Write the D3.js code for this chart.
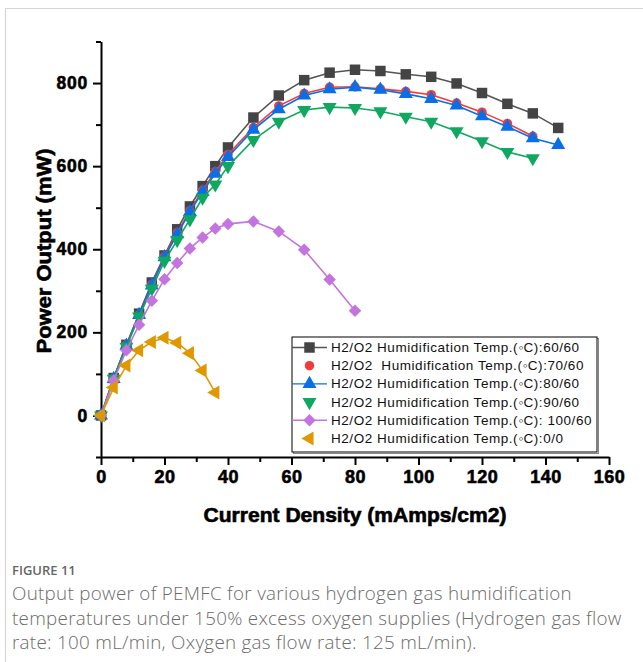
<!DOCTYPE html>
<html>
<head>
<meta charset="utf-8">
<script src="https://cdn.jsdelivr.net/npm/d3@7"></script>
<style>
  body { margin: 0; background: #fff; }
  svg { display: block; }
  .tick text { font-family: "Liberation Sans", Arial, sans-serif; font-weight: bold; }
</style>
</head>
<body>
<div id="chartArea"><svg id="chart"></svg></div>
<script>
// current density (mAmps/cm2) at each measurement
const currentDensity = [0, 4, 8, 12, 16, 20, 24, 28, 32, 36, 40, 48, 56, 64, 72, 80, 88, 96, 104, 112, 120, 128, 136, 144];

// power output (mW), one array per humidification temperature
const temp60_60 = [0, 90, 170, 245, 320, 385, 448, 503, 552, 600, 645, 717, 770, 807, 825, 832, 829, 821, 815, 799, 776, 750, 727, 692];
const temp70_60 = [0, 90, 170, 243, 315, 383, 440, 493, 542, 587, 628, 693, 745, 775, 790, 791, 786, 780, 772, 752, 730, 703, 672];
const temp80_60 = [0, 88, 168, 242, 313, 381, 436, 490, 538, 582, 622, 688, 737, 770, 785, 790, 784, 774, 762, 746, 720, 695, 667, 651];
const temp90_60 = [0, 88, 165, 238, 305, 372, 422, 472, 524, 556, 600, 663, 707, 735, 742, 740, 732, 719, 707, 684, 660, 634, 619];
const temp100_60 = [0, 84, 157, 218, 276, 328, 367, 402, 428, 450, 461, 467, 443, 399, 327, 252];
const temp0_0 = [0, 67, 120, 157, 177, 187, 175, 150, 108, 55];

const seriesNames = [
  "H2/O2 Humidification Temp.(\u25E6C):60/60",
  "H2/O2  Humidification Temp.(\u25E6C):70/60",
  "H2/O2 Humidification Temp.(\u25E6C):80/60",
  "H2/O2 Humidification Temp.(\u25E6C):90/60",
  "H2/O2 Humidification Temp.(\u25E6C): 100/60",
  "H2/O2 Humidification Temp.(\u25E6C):0/0"
];

const xTicks = [0, 20, 40, 60, 80, 100, 120, 140, 160];
const yTicks = [0, 200, 400, 600, 800];

const series = [
  { name: seriesNames[0], values: temp60_60, color: "#444444", line: "#555555", symbol: d3.symbolSquare, size: 110, rotate: 0, legendLine: true },
  { name: seriesNames[1], values: temp70_60, color: "#f23c3c", line: "#f23c3c", symbol: d3.symbolCircle, size: 70, rotate: 0, legendLine: false },
  { name: seriesNames[2], values: temp80_60, color: "#0a6fe6", line: "#0a6fe6", symbol: d3.symbolTriangle, size: 85, rotate: 0, legendLine: true },
  { name: seriesNames[3], values: temp90_60, color: "#10a860", line: "#10a860", symbol: d3.symbolTriangle, size: 85, rotate: 180, legendLine: false },
  { name: seriesNames[4], values: temp100_60, color: "#c474de", line: "#c474de", symbol: d3.symbolSquare, size: 78, rotate: 45, legendLine: true },
  { name: seriesNames[5], values: temp0_0, color: "#e09800", line: "#e09800", symbol: d3.symbolTriangle, size: 85, rotate: -90, legendLine: false }
];

const width = 643, height = 662;
const svg = d3.select("#chart").attr("width", width).attr("height", height);

// panel frame
svg.append("path")
  .attr("d", "M5.5,662 V8.5 H643")
  .attr("fill", "none").attr("stroke", "#d6d6d6").attr("stroke-width", 1.2);

const x = d3.scaleLinear().domain([0, 160]).range([101, 609]);
const y = d3.scaleLinear().domain([-100, 900]).range([457, 41.5]);

// axes
const xAxis = svg.append("g").attr("transform", `translate(0,${y(-100)})`)
  .call(d3.axisBottom(x).tickValues(xTicks).tickSize(8).tickSizeOuter(0).tickPadding(5).tickFormat(d3.format("d")));
const xMinor = svg.append("g").attr("transform", `translate(0,${y(-100)})`)
  .call(d3.axisBottom(x).tickValues(d3.range(10, 160, 20)).tickSize(5).tickFormat(""));
const yAxis = svg.append("g").attr("transform", `translate(${x(0)},0)`)
  .call(d3.axisLeft(y).tickValues(yTicks).tickSize(8).tickSizeOuter(0).tickPadding(5).tickFormat(d3.format("d")));
const yMinor = svg.append("g").attr("transform", `translate(${x(0)},0)`)
  .call(d3.axisLeft(y).tickValues([-100, 100, 300, 500, 700, 900]).tickSize(5).tickFormat(""));
xMinor.select(".domain").remove();
yMinor.select(".domain").remove();

svg.selectAll(".domain, .tick line").attr("stroke", "#000").attr("stroke-width", 2);
xAxis.selectAll(".tick text").attr("font-size", 18).attr("fill", "#000")
  .attr("stroke", "#000").attr("stroke-width", 0.6).attr("letter-spacing", 0.5);
yAxis.selectAll(".tick text").attr("font-size", 17.5).attr("fill", "#000")
  .attr("stroke", "#000").attr("stroke-width", 0.6).attr("letter-spacing", 0.8);

// axis titles
svg.append("text")
  .attr("x", 355).attr("y", 522)
  .attr("text-anchor", "middle")
  .attr("font-family", "Liberation Sans, Arial, sans-serif")
  .attr("font-weight", "bold").attr("font-size", 20)
  .attr("stroke", "#000").attr("stroke-width", 0.6)
  .attr("textLength", 303).attr("lengthAdjust", "spacingAndGlyphs")
  .text("Current Density (mAmps/cm2)");

svg.append("text")
  .attr("transform", "translate(51,251) rotate(-90)")
  .attr("text-anchor", "middle")
  .attr("font-family", "Liberation Sans, Arial, sans-serif")
  .attr("font-weight", "bold").attr("font-size", 20)
  .attr("stroke", "#000").attr("stroke-width", 0.6)
  .attr("textLength", 205).attr("lengthAdjust", "spacingAndGlyphs")
  .text("Power Output (mW)");

// series
const line = d3.line()
  .x((d, i) => x(currentDensity[i]))
  .y((d) => y(d));

const plot = svg.append("g");
series.forEach((s) => {
  const g = plot.append("g");
  g.append("path")
    .datum(s.values)
    .attr("fill", "none")
    .attr("stroke", s.line)
    .attr("stroke-width", 1.6)
    .attr("d", line);
  g.selectAll("path.pt")
    .data(s.values)
    .enter()
    .append("path")
    .attr("class", "pt")
    .attr("d", d3.symbol().type(s.symbol).size(s.size))
    .attr("fill", s.color)
    .attr("transform", (d, i) => `translate(${x(currentDensity[i])},${y(d)}) rotate(${s.rotate})`);
});

// legend
const lg = svg.append("g").attr("transform", "translate(292,337)");
lg.append("rect").attr("x", 1.5).attr("y", 1.5).attr("width", 305).attr("height", 115)
  .attr("fill", "none").attr("stroke", "#888").attr("stroke-width", 1);
lg.append("rect").attr("x", 0).attr("y", 0).attr("width", 305).attr("height", 115)
  .attr("fill", "#fff").attr("stroke", "#000").attr("stroke-width", 1);

const rowY = d3.scaleLinear().domain([0, 5]).range([10.5, 101.5]);
series.forEach((s, i) => {
  const row = lg.append("g").attr("transform", `translate(0,${rowY(i)})`);
  if (s.legendLine) {
    row.append("line").attr("x1", 0).attr("x2", 35).attr("y1", 0).attr("y2", 0)
      .attr("stroke", s.line).attr("stroke-width", 1.4);
  }
  row.append("path")
    .attr("d", d3.symbol().type(s.symbol).size(s.size))
    .attr("fill", s.color)
    .attr("transform", `translate(17.5,0) rotate(${s.rotate})`);
  row.append("text")
    .attr("x", 39).attr("y", 4.5)
    .attr("font-family", "Liberation Sans, Arial, sans-serif")
    .attr("font-size", 13.5)
    .attr("letter-spacing", 0.55)
    .attr("fill", "#111")
    .style("white-space", "pre")
    .text(s.name);
});

// caption
svg.append("text")
  .attr("x", 12).attr("y", 575)
  .attr("font-family", "Open Sans, Noto Sans, sans-serif")
  .attr("font-size", 13).attr("font-weight", 600).attr("fill", "#666")
  .text("FIGURE 11");

const captionLines = [
  "Output power of PEMFC for various hydrogen gas humidification",
  "temperatures under 150% excess oxygen supplies (Hydrogen gas flow",
  "rate: 100 mL/min, Oxygen gas flow rate: 125 mL/min)."
];
svg.append("g").selectAll("text")
  .data(captionLines)
  .enter()
  .append("text")
  .attr("x", 12)
  .attr("y", (d, i) => 600 + i * 24.5)
  .attr("font-family", "Open Sans, Noto Sans, sans-serif")
  .attr("font-size", 18.8).attr("font-weight", 300).attr("fill", "#6b6b6b")
  .attr("letter-spacing", 0.3)
  .text((d) => d);
</script>
</body>
</html>
